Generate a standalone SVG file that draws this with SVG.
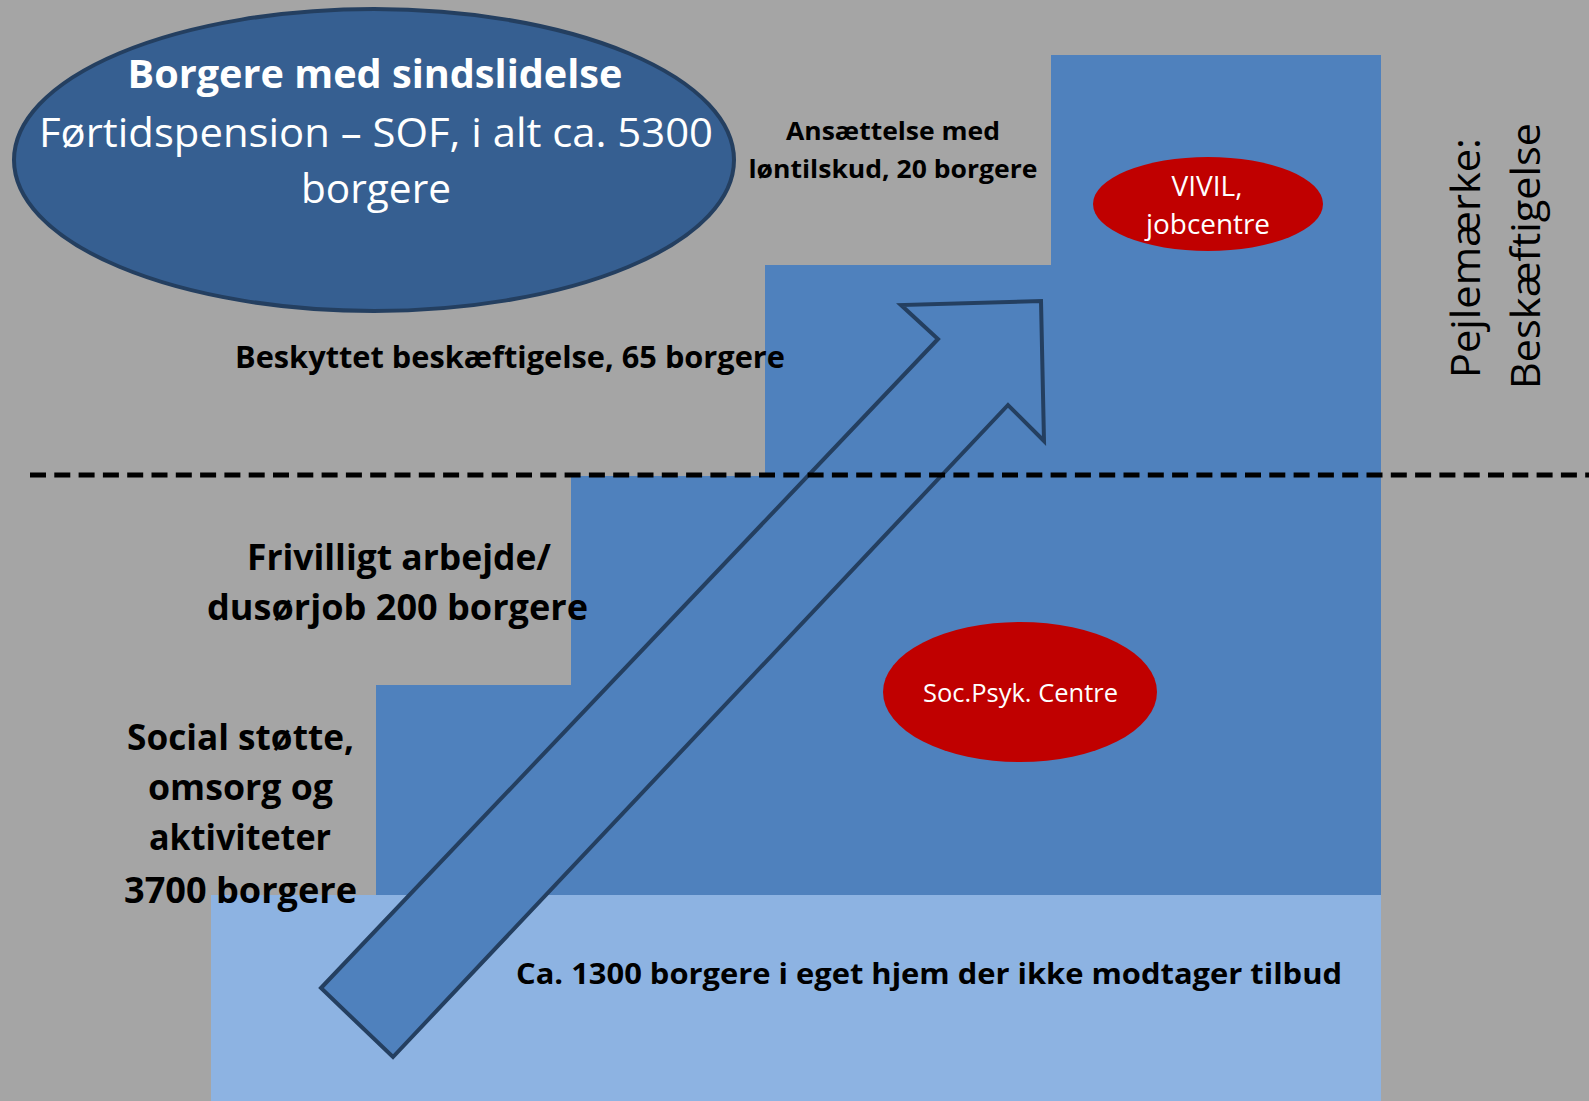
<svg xmlns="http://www.w3.org/2000/svg" width="1589" height="1101" viewBox="0 0 1589 1101">
<style>
text{font-family:"Open Sans","Liberation Sans",sans-serif;}
.b{font-weight:bold;fill:#000;}
.w{fill:#fff;}
.m{text-anchor:middle;}
</style>
<rect x="0" y="0" width="1589" height="1101" fill="#A5A5A5"/>
<g id="steps">
<polygon points="376,895 376,685 571,685 571,476 765,476 765,265 1051,265 1051,55 1381,55 1381,895" fill="#4F81BD"/>
<rect x="211" y="895" width="1170" height="206" fill="#8DB3E2"/>
</g>
<g id="node-borgere">
<ellipse cx="374" cy="160" rx="360" ry="151" fill="#365F91" stroke="#243F60" stroke-width="4"/>
<text class="w m" x="375" y="88" font-size="39" font-weight="bold" textLength="495" lengthAdjust="spacingAndGlyphs">Borgere med sindslidelse</text>
<text class="w m" x="376" y="147" font-size="40" textLength="674" lengthAdjust="spacingAndGlyphs">Førtidspension – SOF, i alt ca. 5300</text>
<text class="w m" x="376" y="203" font-size="40" textLength="150" lengthAdjust="spacingAndGlyphs">borgere</text>
</g>
<g id="node-vivil">
<ellipse cx="1208" cy="204" rx="115" ry="47" fill="#C00000"/>
<text class="w m" x="1207" y="196" font-size="27" textLength="71" lengthAdjust="spacingAndGlyphs">VIVIL,</text>
<text class="w m" x="1208" y="234" font-size="27" textLength="124" lengthAdjust="spacingAndGlyphs">jobcentre</text>
</g>
<g id="node-socpsyk">
<ellipse cx="1020" cy="692" rx="137" ry="70" fill="#C00000"/>
<text class="w m" x="1020.5" y="702" font-size="25" textLength="195" lengthAdjust="spacingAndGlyphs">Soc.Psyk. Centre</text>
</g>
<g id="connectors">
<polygon points="321,988 938,339 901,305 1041,301 1044,441 1008,405 393,1057" fill="#4F81BD" stroke="#243F60" stroke-width="4" stroke-linejoin="miter"/>
</g>
<g id="divider">
<line x1="30" y1="475" x2="1589" y2="475" stroke="#000" stroke-width="5" stroke-dasharray="16 8.3"/>
</g>
<g id="label-ansaettelse">
<text class="b m" x="893" y="140" font-size="25" textLength="214" lengthAdjust="spacingAndGlyphs">Ansættelse med</text>
<text class="b m" x="893" y="178" font-size="25" textLength="289" lengthAdjust="spacingAndGlyphs">løntilskud, 20 borgere</text>
</g>
<g id="label-beskyttet">
<text class="b m" x="510" y="368" font-size="30" textLength="550" lengthAdjust="spacingAndGlyphs">Beskyttet beskæftigelse, 65 borgere</text>
</g>
<g id="label-frivilligt">
<text class="b m" x="399" y="570" font-size="35" textLength="304" lengthAdjust="spacingAndGlyphs">Frivilligt arbejde/</text>
<text class="b m" x="397.5" y="620" font-size="35" textLength="381" lengthAdjust="spacingAndGlyphs">dusørjob 200 borgere</text>
</g>
<g id="label-social">
<text class="b m" x="240.5" y="750" font-size="35" textLength="227" lengthAdjust="spacingAndGlyphs">Social støtte,</text>
<text class="b m" x="240.5" y="800" font-size="35" textLength="185" lengthAdjust="spacingAndGlyphs">omsorg og</text>
<text class="b m" x="240" y="850" font-size="35" textLength="182" lengthAdjust="spacingAndGlyphs">aktiviteter</text>
<text class="b m" x="240.5" y="903" font-size="35" textLength="233" lengthAdjust="spacingAndGlyphs">3700 borgere</text>
</g>
<g id="label-eget-hjem">
<text class="b m" x="929" y="984" font-size="29" textLength="826" lengthAdjust="spacingAndGlyphs">Ca. 1300 borgere i eget hjem der ikke modtager tilbud</text>
</g>
<g id="label-pejlemaerke">
<text class="m" transform="translate(1480,258) rotate(-90)" font-size="41" fill="#000" textLength="240" lengthAdjust="spacingAndGlyphs">Pejlemærke:</text>
<text class="m" transform="translate(1540,256) rotate(-90)" font-size="41" fill="#000" textLength="266" lengthAdjust="spacingAndGlyphs">Beskæftigelse</text>
</g>
</svg>
